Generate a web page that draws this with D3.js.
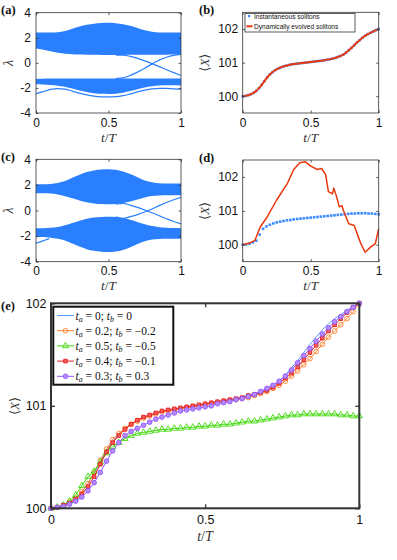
<!DOCTYPE html>
<html>
<head>
<meta charset="utf-8">
<script src="https://cdn.jsdelivr.net/npm/d3@7"></script>
<style>
  body { margin: 0; background: #fff; }
  svg { display: block; }
  text { font-family: "Liberation Sans", Arial, sans-serif; }
  .tick line { stroke: #333; }
  .serif { font-family: "Liberation Serif", "DejaVu Serif", serif; }
</style>
</head>
<body>
<div id="chart"></div>
<script>
// time grids
var tBand = [0, 0.05, 0.1, 0.15, 0.2, 0.25, 0.3, 0.35, 0.4, 0.45, 0.5, 0.55, 0.6, 0.65, 0.7, 0.75, 0.8, 0.85, 0.9, 0.95, 1]
var tCross = [0.55, 0.6, 0.65, 0.7, 0.75, 0.8, 0.85, 0.9, 0.95, 1]
var tE = d3.range(51).map(i => i / 50)
var tD = d3.range(41).map(i => i / 40)

// (a) spectrum, band edges
var aUpTop  = [2.42, 2.42, 2.42, 2.45, 2.55, 2.72, 2.9, 3.03, 3.12, 3.17, 3.19, 3.16, 3.08, 2.95, 2.78, 2.6, 2.48, 2.43, 2.42, 2.42, 2.42]
var aUpBot  = [1.15, 1.05, 0.92, 0.8, 0.72, 0.68, 0.66, 0.65, 0.64, 0.63, 0.62, 0.62, 0.63, 0.64, 0.64, 0.64, 0.64, 0.64, 0.65, 0.66, 0.68]
var aLowTop = [-1.28, -1.26, -1.25, -1.25, -1.25, -1.25, -1.25, -1.25, -1.25, -1.25, -1.25, -1.25, -1.25, -1.25, -1.25, -1.25, -1.25, -1.25, -1.25, -1.25, -1.25]
var aLowBot = [-1.7, -1.72, -1.76, -1.82, -1.9, -2.05, -2.2, -2.33, -2.42, -2.47, -2.48, -2.46, -2.38, -2.25, -2.1, -1.97, -1.87, -1.8, -1.78, -1.78, -1.8]
var aLowLine = [-2.45, -2.3, -2.12, -2.05, -2.1, -2.25, -2.42, -2.56, -2.66, -2.71, -2.72, -2.7, -2.62, -2.48, -2.32, -2.17, -2.07, -2.03, -2.03, -2.07, -2.1]
var aDown = [0.62, 0.62, 0.52, 0.36, 0.16, -0.06, -0.3, -0.55, -0.78, -1.0]
var aUp   = [-1.25, -1.2, -1.0, -0.74, -0.43, -0.08, 0.22, 0.45, 0.6, 0.68]

// (c) spectrum, band edges
var cUpTop  = [2.05, 2.05, 2.08, 2.15, 2.3, 2.55, 2.8, 3.0, 3.13, 3.2, 3.22, 3.18, 3.05, 2.85, 2.6, 2.35, 2.2, 2.12, 2.1, 2.1, 2.1]
var cUpBot  = [1.35, 1.35, 1.32, 1.25, 1.12, 0.95, 0.78, 0.64, 0.55, 0.5, 0.48, 0.5, 0.58, 0.7, 0.86, 1.02, 1.13, 1.18, 1.2, 1.2, 1.2]
var cLowTop = [-1.38, -1.38, -1.35, -1.28, -1.15, -0.98, -0.8, -0.65, -0.55, -0.5, -0.48, -0.5, -0.58, -0.72, -0.9, -1.08, -1.22, -1.3, -1.35, -1.37, -1.38]
var cLowBot = [-2.05, -2.08, -2.12, -2.2, -2.35, -2.58, -2.82, -3.02, -3.15, -3.22, -3.25, -3.2, -3.08, -2.88, -2.62, -2.4, -2.27, -2.22, -2.2, -2.2, -2.2]
var cDown = [0.5, 0.56, 0.42, 0.24, 0.04, -0.18, -0.41, -0.64, -0.86, -1.05]
var cUp   = [-0.5, -0.62, -0.48, -0.32, -0.12, 0.12, 0.38, 0.62, 0.84, 1.03]
var cEdgeT = [0, 0.03, 0.06, 0.09]
var cEdge  = [-2.55, -2.45, -2.32, -2.2]

// (b) and (e): <X> for t_a = 0; t_b = 0
var xBase = [100.00, 100.01, 100.03, 100.06, 100.10, 100.16, 100.24, 100.34, 100.45, 100.56,
  100.65, 100.72, 100.78, 100.82, 100.86, 100.89, 100.91, 100.93, 100.95, 100.96,
  100.97, 100.98, 100.99, 101.00, 101.01, 101.02, 101.03, 101.04, 101.05, 101.06,
  101.07, 101.09, 101.10, 101.12, 101.14, 101.17, 101.20, 101.24, 101.30, 101.37,
  101.44, 101.52, 101.60, 101.67, 101.74, 101.80, 101.85, 101.89, 101.93, 101.97, 102.00]

// (e) other parameter pairs
var xOrange = [100.00, 100.01, 100.03, 100.06, 100.10, 100.16, 100.24, 100.35, 100.47, 100.58,
  100.67, 100.73, 100.78, 100.82, 100.85, 100.88, 100.90, 100.92, 100.94, 100.95,
  100.96, 100.97, 100.98, 100.99, 101.00, 101.01, 101.02, 101.03, 101.04, 101.05,
  101.06, 101.07, 101.08, 101.10, 101.12, 101.14, 101.17, 101.20, 101.24, 101.29,
  101.34, 101.40, 101.46, 101.53, 101.60, 101.67, 101.73, 101.79, 101.85, 101.92, 102.00]
var xGreen = [100.00, 100.01, 100.03, 100.07, 100.13, 100.22, 100.31, 100.36, 100.45, 100.54,
  100.60, 100.64, 100.68, 100.71, 100.73, 100.74, 100.75, 100.76, 100.77, 100.77,
  100.78, 100.78, 100.79, 100.79, 100.80, 100.80, 100.81, 100.81, 100.82, 100.82,
  100.83, 100.84, 100.85, 100.85, 100.86, 100.87, 100.88, 100.89, 100.90, 100.91,
  100.91, 100.92, 100.92, 100.92, 100.92, 100.92, 100.92, 100.91, 100.91, 100.90, 100.90]
var xRed = [100.00, 100.01, 100.03, 100.05, 100.09, 100.14, 100.21, 100.31, 100.43, 100.55,
  100.64, 100.71, 100.77, 100.82, 100.86, 100.89, 100.91, 100.93, 100.95, 100.96,
  100.97, 100.98, 100.99, 101.00, 101.01, 101.02, 101.03, 101.04, 101.05, 101.06,
  101.07, 101.08, 101.10, 101.11, 101.13, 101.15, 101.18, 101.22, 101.27, 101.32,
  101.38, 101.45, 101.52, 101.59, 101.66, 101.73, 101.79, 101.85, 101.91, 101.96, 102.00]
var xPurple = [100.00, 100.01, 100.02, 100.04, 100.07, 100.11, 100.17, 100.25, 100.35, 100.46,
  100.56, 100.64, 100.71, 100.75, 100.78, 100.81, 100.84, 100.87, 100.89, 100.91,
  100.93, 100.95, 100.96, 100.97, 100.98, 100.99, 101.00, 101.02, 101.03, 101.04,
  101.06, 101.07, 101.09, 101.11, 101.14, 101.17, 101.20, 101.24, 101.29, 101.35,
  101.42, 101.49, 101.56, 101.63, 101.70, 101.76, 101.82, 101.87, 101.92, 101.96, 102.00]

// (d) instantaneous solitons and dynamically evolved ones
var dBlue = [100.00, 100.01, 100.03, 100.07, 100.12, 100.30, 100.47, 100.54, 100.59, 100.63,
  100.66, 100.68, 100.70, 100.72, 100.73, 100.75, 100.76, 100.77, 100.78, 100.79,
  100.80, 100.81, 100.82, 100.83, 100.84, 100.85, 100.86, 100.87, 100.88, 100.89,
  100.90, 100.91, 100.92, 100.92, 100.93, 100.93, 100.93, 100.92, 100.92, 100.91, 100.90]
var dRedT = [0, 0.05, 0.09, 0.13, 0.18, 0.25, 0.33, 0.375, 0.42, 0.46, 0.5, 0.55, 0.58, 0.61, 0.63,
  0.66, 0.67, 0.69, 0.71, 0.73, 0.74, 0.78, 0.82, 0.865, 0.9, 0.94, 0.975, 1]
var dRedX = [100.0, 100.05, 100.13, 100.53, 100.82, 101.32, 101.82, 102.22, 102.42, 102.45, 102.32, 102.22,
  102.25, 102.07, 101.57, 101.5, 101.67, 101.42, 101.12, 101.15, 101.02, 100.62, 100.57, 100.07, 99.78,
  99.93, 100.03, 100.47]

var legendE = [
  {a: '0', b: '0', color: '#5b9bff', shape: null},
  {a: '0.2', b: '\u22120.2', color: '#ff7f27', shape: d3.symbolCircle},
  {a: '0.5', b: '\u22120.5', color: '#3fd80a', shape: d3.symbolTriangle},
  {a: '0.4', b: '\u22120.1', color: '#e81e1e', shape: d3.symbolSquare},
  {a: '0.3', b: '0.3', color: '#9256ff', shape: d3.symbolCircle}
]
var seriesE = [xBase, xOrange, xGreen, xRed, xPurple]

var blue = '#2a7fff'
var dotBlue = '#3d8bff'
var red = '#e8380d'

var svg = d3.select('#chart').append('svg')
  .attr('width', 397)
  .attr('height', 560)

function frame (g, x, y, xt, yt, o) {
  var left = x.range()[0], right = x.range()[1]
  var top = y.range()[1], bottom = y.range()[0]
  var fmt = o.fmt || String
  var b = g.append('g').attr('transform', 'translate(0,' + bottom + ')')
    .call(d3.axisBottom(x).tickValues(xt).tickSize(-o.tick).tickPadding(o.xpad).tickFormat(fmt))
  var l = g.append('g').attr('transform', 'translate(' + left + ',0)')
    .call(d3.axisLeft(y).tickValues(yt).tickSize(-o.tick).tickPadding(o.ypad).tickFormat(fmt))
  var t = g.append('g').attr('transform', 'translate(0,' + top + ')')
    .call(d3.axisTop(x).tickValues(xt).tickSize(-o.tick).tickFormat(''))
  var r = g.append('g').attr('transform', 'translate(' + right + ',0)')
    .call(d3.axisRight(y).tickValues(yt).tickSize(-o.tick).tickFormat(''))
  ;[b, l, t, r].forEach(function (a) {
    a.select('.domain').remove()
    a.selectAll('.tick line').attr('stroke', '#333').attr('stroke-width', o.tw || 0.8)
    a.selectAll('text').attr('fill', '#111').attr('font-size', o.fs)
      .attr('font-family', '"Liberation Sans", Arial, sans-serif')
  })
  g.append('rect')
    .attr('x', left).attr('y', top)
    .attr('width', right - left).attr('height', bottom - top)
    .attr('fill', 'none').attr('stroke', o.stroke || '#333').attr('stroke-width', o.sw || 0.8)
}

function xLabel (g, cx, yb, size) {
  var t = g.append('text').attr('class', 'serif').attr('x', cx).attr('y', yb)
    .attr('text-anchor', 'middle').attr('font-size', size).attr('fill', '#333')
  t.append('tspan').attr('font-style', 'italic').text('t')
  t.append('tspan').text('/')
  t.append('tspan').attr('font-style', 'italic').text('T')
}

function yLabelX (g, cx, cy, size) {
  var t = g.append('text').attr('class', 'serif')
    .attr('transform', 'translate(' + cx + ',' + cy + ') rotate(-90)')
    .attr('text-anchor', 'middle').attr('font-size', size).attr('fill', '#333')
  t.append('tspan').text('\u27E8')
  t.append('tspan').attr('font-style', 'italic').text('X')
  t.append('tspan').text('\u27E9')
}

function tag (g, x, y, s) {
  g.append('text').attr('class', 'serif').attr('x', x).attr('y', y)
    .attr('font-size', 12.5).attr('font-weight', 'bold').attr('fill', '#111').text(s)
}

// ---------- spectrum panels (a) and (c) ----------
function spectrum (y0, y1, bands, lines, label) {
  var x = d3.scaleLinear().domain([0, 1]).range([36, 181])
  var y = d3.scaleLinear().domain([-4, 4]).range([y1, y0])
  var g = svg.append('g')
  var area = d3.area().x(d => x(d.t)).y0(d => y(d.lo)).y1(d => y(d.hi)).curve(d3.curveMonotoneX)
  var line = d3.line().x(d => x(d.t)).y(d => y(d.v)).curve(d3.curveMonotoneX)
  bands.forEach(function (bd) {
    var pts = bd.t.map((t, i) => ({t: t, lo: bd.lo[i], hi: bd.hi[i]}))
    g.append('path').attr('d', area(pts)).attr('fill', blue)
  })
  lines.forEach(function (ln) {
    var pts = ln.t.map((t, i) => ({t: t, v: ln.v[i]}))
    g.append('path').attr('d', line(pts)).attr('fill', 'none')
      .attr('stroke', blue).attr('stroke-width', 1.2)
  })
  frame(g, x, y, [0, 0.5, 1], [-4, -2, 0, 2, 4], {tick: 2.5, xpad: 5, ypad: 5, fs: 12})
  xLabel(g, 108.5, y1 + 28.5, 13.5)
  g.append('text').attr('class', 'serif')
    .attr('transform', 'translate(13,' + (y0 + y1) / 2 + ') rotate(-90)')
    .attr('text-anchor', 'middle').attr('font-size', 14).attr('font-style', 'italic')
    .attr('fill', '#333').text('\u03BB')
  tag(g, 1, y0 + 1.5, label)
}

spectrum(12.7, 113,
  [{t: tBand, lo: aUpBot, hi: aUpTop}, {t: tBand, lo: aLowBot, hi: aLowTop}],
  [{t: tBand, v: aLowLine}, {t: tCross, v: aDown}, {t: tCross, v: aUp}], '(a)')

spectrum(159.3, 261.7,
  [{t: tBand, lo: cUpBot, hi: cUpTop}, {t: tBand, lo: cLowBot, hi: cLowTop}],
  [{t: tCross, v: cDown}, {t: tCross, v: cUp}, {t: cEdgeT, v: cEdge}], '(c)')

// ---------- position panels (b) and (d) ----------
function position (y0, y1, dotT, dotV, lineT, lineV, lw, label) {
  var x = d3.scaleLinear().domain([0, 1]).range([242.7, 378.7])
  var y = d3.scaleLinear().domain([99.5, 102.5]).range([y1, y0])
  var g = svg.append('g')
  g.append('g').selectAll('rect').data(dotV).enter().append('rect')
    .attr('x', (d, i) => x(dotT[i]) - 1.3)
    .attr('y', d => y(d) - 1.3)
    .attr('width', 2.6).attr('height', 2.6)
    .attr('fill', dotBlue)
  var line = d3.line().x((d, i) => x(lineT[i])).y(d => y(d))
  g.append('path').attr('d', line(lineV)).attr('fill', 'none')
    .attr('stroke', red).attr('stroke-width', lw).attr('stroke-linejoin', 'round')
  frame(g, x, y, [0, 0.5, 1], [100, 101, 102], {tick: 2.5, xpad: 5, ypad: 4.5, fs: 12})
  xLabel(g, 310.7, y1 + 28.5, 13.5)
  yLabelX(g, 209, (y0 + y1) / 2, 13)
  tag(g, 199, y0 + 1.5, label)
  return g
}

var gb = position(12.3, 113, tE, xBase, tE, xBase, 2, '(b)')
// legend of (b)
var lb = gb.append('g')
lb.append('rect').attr('x', 245).attr('y', 13.5).attr('width', 110).attr('height', 18.5)
  .attr('fill', '#fff').attr('stroke', '#333').attr('stroke-width', 0.8)
lb.append('rect').attr('x', 248).attr('y', 15).attr('width', 2.2).attr('height', 2.2).attr('fill', dotBlue)
lb.append('line').attr('x1', 246.5).attr('x2', 252.5).attr('y1', 26.3).attr('y2', 26.3)
  .attr('stroke', red).attr('stroke-width', 2)
lb.append('text').attr('x', 254).attr('y', 18.6).attr('font-size', 6.6).attr('fill', '#111')
  .text('Instantaneous solitons')
lb.append('text').attr('x', 254).attr('y', 28.6).attr('font-size', 6.6).attr('fill', '#111')
  .text('Dynamically evolved solitons')

position(160, 261.7, tD, dBlue, dRedT, dRedX, 1.5, '(d)')

// ---------- panel (e) ----------
var xe = d3.scaleLinear().domain([0, 1]).range([51, 359.3])
var ye = d3.scaleLinear().domain([100, 102]).range([508.3, 303.3])
var ge = svg.append('g')

seriesE.forEach(function (s, k) {
  var c = legendE[k]
  var line = d3.line().x((d, i) => xe(tE[i])).y(d => ye(d))
  ge.append('path').attr('d', line(s)).attr('fill', 'none')
    .attr('stroke', c.color).attr('stroke-width', 1)
  if (c.shape) {
    var sym = d3.symbol().type(c.shape).size(c.shape === d3.symbolSquare ? 13 : 17)
    ge.append('g').selectAll('path').data(s).enter().append('path')
      .attr('d', sym)
      .attr('transform', (d, i) => 'translate(' + xe(tE[i]) + ',' + ye(d) + ')')
      .attr('fill', k === 3 ? '#f2605a' : (k === 4 ? '#b48cff' : 'none'))
      .attr('stroke', c.color).attr('stroke-width', 0.9)
  }
})

frame(ge, xe, ye, [0, 0.5, 1], [100, 101, 102],
  {tick: 4, xpad: 7, ypad: 4.5, fs: 12.5, stroke: '#333', sw: 2, tw: 1.3})
xLabel(ge, 205, 541, 14)
yLabelX(ge, 19, 406, 13)
tag(ge, 1, 310, '(e)')

// legend of (e)
var le = ge.append('g')
le.append('rect').attr('x', 53.3).attr('y', 306.7).attr('width', 120).attr('height', 78)
  .attr('fill', '#fff').attr('stroke', '#111').attr('stroke-width', 2)
legendE.forEach(function (c, k) {
  var yy = 315.5 + k * 15.2
  le.append('line').attr('x1', 57).attr('x2', 74).attr('y1', yy).attr('y2', yy)
    .attr('stroke', c.color).attr('stroke-width', 1)
  if (c.shape) {
    le.append('path').attr('d', d3.symbol().type(c.shape).size(c.shape === d3.symbolSquare ? 13 : 17))
      .attr('transform', 'translate(65.5,' + yy + ')')
      .attr('fill', k === 3 ? '#f2605a' : (k === 4 ? '#b48cff' : 'none'))
      .attr('stroke', c.color).attr('stroke-width', 0.9)
  }
  var t = le.append('text').attr('class', 'serif').attr('x', 75.5).attr('y', yy + 4)
    .attr('font-size', 11.5).attr('fill', '#111')
  t.append('tspan').attr('font-style', 'italic').text('t')
  t.append('tspan').attr('font-style', 'italic').attr('font-size', 8).attr('dy', 2).text('a')
  t.append('tspan').attr('dy', -2).text(' = ' + c.a + '; ')
  t.append('tspan').attr('font-style', 'italic').text('t')
  t.append('tspan').attr('font-style', 'italic').attr('font-size', 8).attr('dy', 2).text('b')
  t.append('tspan').attr('dy', -2).text(' = ' + c.b)
})
</script>
</body>
</html>
